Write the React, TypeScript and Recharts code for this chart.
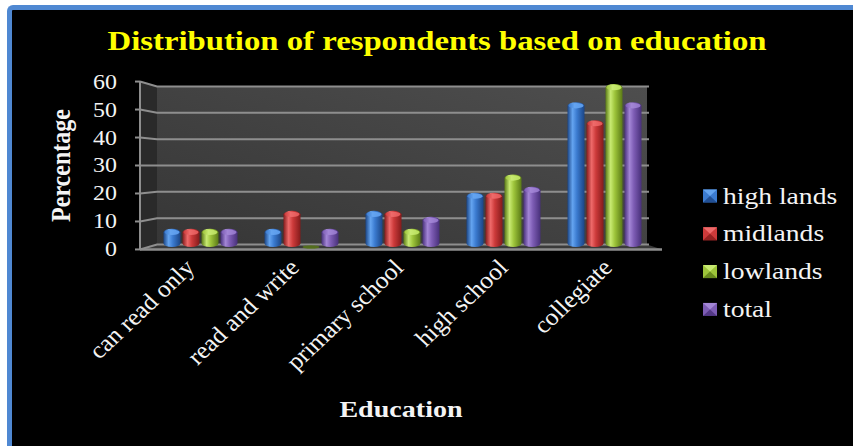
import React from 'react';
import { BarChart, Bar, XAxis, YAxis, CartesianGrid, Legend } from 'recharts';

// ---- data ----
const categories = ['can read only', 'read and write', 'primary school', 'high school', 'collegiate'];
const highLands = [6.7, 6.7, 13.3, 20, 53.3];
const midlands = [6.7, 13.3, 13.3, 20, 46.7];
const lowlands = [6.7, 0, 6.7, 26.7, 60];
const total = [6.7, 6.7, 11.1, 22.2, 53.3];
const seriesKeys = ['highLands', 'midlands', 'lowlands', 'total'];
const seriesNames = ['high lands', 'midlands', 'lowlands', 'total'];
const yTicks = [0, 10, 20, 30, 40, 50, 60];

const data = categories.map((category, i) => ({
  category,
  highLands: highLands[i],
  midlands: midlands[i],
  lowlands: lowlands[i],
  total: total[i],
}));

// ---- layout ----
const W = 853;
const H = 446;
const PLOT = { left: 140, right: 662, top: 84, bottom: 247 };
const YAXIS_W = 100;
const XAXIS_H = 180;
const DEPTH_L = 17; // depth of the box on the left side
const DEPTH_R = 15; // depth of the box on the right side
const PERSP = 0.03;
const MID = (PLOT.top + PLOT.bottom) / 2;
const MID_X = (PLOT.left + PLOT.right) / 2;
const backY = (y: number) => y + (MID - y) * PERSP;
const frontY = (y: number) => y - (MID - y) * PERSP;
const STRETCH = 1.17;
const SERIF = '"Liberation Serif", "Times New Roman", serif';
const TEXT = '#f4f4f4';
const EDGE = '#8e8e8e';

const tones: Record<string, { dark: string; mid: string; light: string; cap: string }> = {
  highLands: { dark: '#1b4585', mid: '#3b7bd0', light: '#64a4f0', cap: '#5a9aea' },
  midlands: { dark: '#841b1b', mid: '#cc3a3a', light: '#ee6a6a', cap: '#e25656' },
  lowlands: { dark: '#5a7a16', mid: '#9dc43a', light: '#c8ea72', cap: '#b8de5a' },
  total: { dark: '#48307a', mid: '#7d5cb4', light: '#a386d6', cap: '#9274c8' },
};

function Cylinder(props: any) {
  const { x, y, width, height, tone } = props;
  const t = tones[tone];
  const cx = x + width / 2;
  const ry = 3.5;
  if (!height || height < 1) {
    return <ellipse cx={cx} cy={y} rx={width / 2} ry={1.8} fill={t.dark} opacity={0.8} />;
  }
  const d = `M${x},${y + ry} A${width / 2},${ry} 0 0 1 ${x + width},${y + ry} L${x + width},${y + height - ry} A${width / 2},${ry} 0 0 1 ${x},${y + height - ry} Z`;
  return (
    <g>
      <path d={d} fill={`url(#body-${tone})`} />
      <ellipse cx={cx} cy={y + ry} rx={width / 2 - 1} ry={ry - 0.8} fill={`url(#cap-${tone})`} />
    </g>
  );
}

function GridLine(props: any) {
  const { x1, x2, y1 } = props;
  const fy = frontY(y1);
  const by = backY(y1);
  return (
    <polyline
      points={`${x1},${fy} ${x1 + DEPTH_L},${by} ${x2 - DEPTH_R + 2},${by}`}
      fill="none"
      stroke={EDGE}
      strokeWidth={2}
    />
  );
}

function YTick(props: any) {
  const { x, y, payload } = props;
  const fy = frontY(y);
  return (
    <g>
      <line x1={PLOT.left - 5} y1={fy} x2={PLOT.left} y2={fy} stroke={EDGE} strokeWidth={2} />
      <text
        transform={`translate(${x},${fy}) scale(1.14,1)`}
        textAnchor="end"
        dominantBaseline="central"
        fontFamily={SERIF}
        fontSize={21}
        fill={TEXT}
      >
        {payload.value}
      </text>
    </g>
  );
}

// category labels lean slightly outward, following the box perspective
function XTick(props: any) {
  const { x, y, payload } = props;
  const lx = x + 2.8 + (x - MID_X) * 0.0335;
  return (
    <text
      transform={`translate(${lx},${y + 14}) scale(1.06,1) rotate(-45)`}
      textAnchor="end"
      fontFamily={SERIF}
      fontSize={24}
      fill={TEXT}
    >
      {payload.value}
    </text>
  );
}

function LegendBox(props: any) {
  const items = [...(props.payload || [])].sort(
    (a: any, b: any) => seriesKeys.indexOf(a.dataKey) - seriesKeys.indexOf(b.dataKey),
  );
  return (
    <svg width={150} height={150}>
      {items.map((p: any, i: number) => {
        const t = tones[p.dataKey];
        const cy = 13 + i * 37.8;
        const x0 = 3;
        const s = 14;
        const y0 = cy - 6.5;
        return (
          <g key={p.dataKey}>
            <rect x={x0} y={y0} width={s} height={13} fill={t.mid} />
            <polygon points={`${x0},${y0} ${x0 + s},${y0} ${x0 + s / 2},${cy}`} fill={t.light} />
            <polygon points={`${x0},${y0 + 13} ${x0 + s},${y0 + 13} ${x0 + s / 2},${cy}`} fill={t.dark} opacity={0.8} />
            <text
              transform={`translate(${x0 + s + 6},${cy + 7.5}) scale(1.2,1)`}
              fontFamily={SERIF}
              fontSize={23}
              fill={TEXT}
            >
              {p.value}
            </text>
          </g>
        );
      })}
    </svg>
  );
}

export default function App() {
  const floorY = frontY(PLOT.bottom);
  const topY = frontY(PLOT.top);
  return (
    <div style={{ position: 'absolute', left: 0, top: 0, width: W, height: H, background: '#ffffff', overflow: 'hidden' }}>
      <div
        style={{
          position: 'absolute',
          left: 7,
          top: 5,
          width: W,
          height: H,
          background: '#000000',
          borderLeft: '5px solid #4f88d2',
          borderTop: '5px solid #4f88d2',
          borderTopLeftRadius: 6,
        }}
      />
      <svg width={W} height={H} style={{ position: 'absolute', left: 0, top: 0 }}>
        <defs>
          <linearGradient id="wallFill" x1="0" y1="1" x2="1" y2="0">
            <stop offset="0" stopColor="#363636" />
            <stop offset="1" stopColor="#4e4e4e" />
          </linearGradient>
          {seriesKeys.map((k) => (
            <linearGradient key={`b-${k}`} id={`body-${k}`} x1="0" y1="0" x2="1" y2="0">
              <stop offset="0" stopColor={tones[k].dark} />
              <stop offset="0.3" stopColor={tones[k].light} />
              <stop offset="0.55" stopColor={tones[k].mid} />
              <stop offset="1" stopColor={tones[k].dark} />
            </linearGradient>
          ))}
          {seriesKeys.map((k) => (
            <linearGradient key={`c-${k}`} id={`cap-${k}`} x1="0" y1="0" x2="1" y2="0">
              <stop offset="0" stopColor={tones[k].mid} />
              <stop offset="0.4" stopColor={tones[k].light} />
              <stop offset="1" stopColor={tones[k].cap} />
            </linearGradient>
          ))}
        </defs>
        {/* back wall, side wall and floor of the box */}
        <rect
          x={PLOT.left + DEPTH_L}
          y={backY(PLOT.top)}
          width={PLOT.right - DEPTH_R - PLOT.left - DEPTH_L}
          height={backY(PLOT.bottom) - backY(PLOT.top)}
          fill="url(#wallFill)"
        />
        <polygon
          points={`${PLOT.left},${topY} ${PLOT.left + DEPTH_L},${backY(PLOT.top)} ${PLOT.left + DEPTH_L},${backY(PLOT.bottom)} ${PLOT.left},${floorY}`}
          fill="#2a2a2a"
        />
        <polygon
          points={`${PLOT.left},${floorY} ${PLOT.left + DEPTH_L},${backY(PLOT.bottom)} ${PLOT.right - DEPTH_R},${backY(PLOT.bottom)} ${PLOT.right},${floorY}`}
          fill="#3a3a3a"
        />
        <line x1={PLOT.left} y1={floorY} x2={PLOT.right} y2={floorY} stroke={EDGE} strokeWidth={2.5} />
        <line x1={PLOT.left} y1={topY} x2={PLOT.left} y2={floorY} stroke={EDGE} strokeWidth={2} />
        <text
          x={437}
          y={50}
          textAnchor="middle"
          textLength={659}
          lengthAdjust="spacingAndGlyphs"
          fontFamily={SERIF}
          fontWeight="bold"
          fontSize={28}
          fill="#ffff00"
        >
          Distribution of respondents based on education
        </text>
      </svg>
      <div style={{ position: 'absolute', left: 0, top: 0 }}>
        <BarChart
          width={W}
          height={H}
          data={data}
          margin={{ top: PLOT.top, right: W - PLOT.right, bottom: H - PLOT.bottom - XAXIS_H, left: PLOT.left - YAXIS_W }}
          barSize={17}
          barGap={2}
        >
          <CartesianGrid vertical={false} horizontal={(p: any) => <GridLine key={p.key} {...p} />} />
          <XAxis
            dataKey="category"
            height={XAXIS_H}
            padding={{ left: 9.5, right: 7.5 }}
            axisLine={false}
            tickLine={false}
            interval={0}
            tick={<XTick />}
            label={{
              content: (lp: any) => {
                const vb = lp.viewBox;
                return (
                  <text
                    transform={`translate(${vb.x + vb.width / 2},${vb.y + vb.height - 10}) scale(${STRETCH},1)`}
                    textAnchor="middle"
                    fontFamily={SERIF}
                    fontWeight="bold"
                    fontSize={24}
                    fill={TEXT}
                  >
                    Education
                  </text>
                );
              },
            }}
          />
          <YAxis
            width={YAXIS_W}
            domain={[0, 60]}
            ticks={yTicks}
            axisLine={false}
            tickLine={false}
            tickMargin={18}
            tickSize={5}
            tick={<YTick />}
            label={{
              content: (lp: any) => {
                const vb = lp.viewBox;
                return (
                  <text
                    transform={`translate(${vb.x + 30},${vb.y + vb.height / 2}) scale(${STRETCH},1) rotate(-90)`}
                    textAnchor="middle"
                    fontFamily={SERIF}
                    fontWeight="bold"
                    fontSize={24}
                    fill={TEXT}
                  >
                    Percentage
                  </text>
                );
              },
            }}
          />
          <Legend
            layout="vertical"
            align="center"
            verticalAlign="middle"
            content={<LegendBox />}
            wrapperStyle={{ left: 700, top: 183, width: 150, height: 150 }}
          />
          {seriesKeys.map((k, i) => (
            <Bar
              key={k}
              dataKey={k}
              name={seriesNames[i]}
              fill={tones[k].mid}
              isAnimationActive={false}
              shape={(p: any) => <Cylinder {...p} tone={k} />}
            />
          ))}
        </BarChart>
      </div>
    </div>
  );
}
